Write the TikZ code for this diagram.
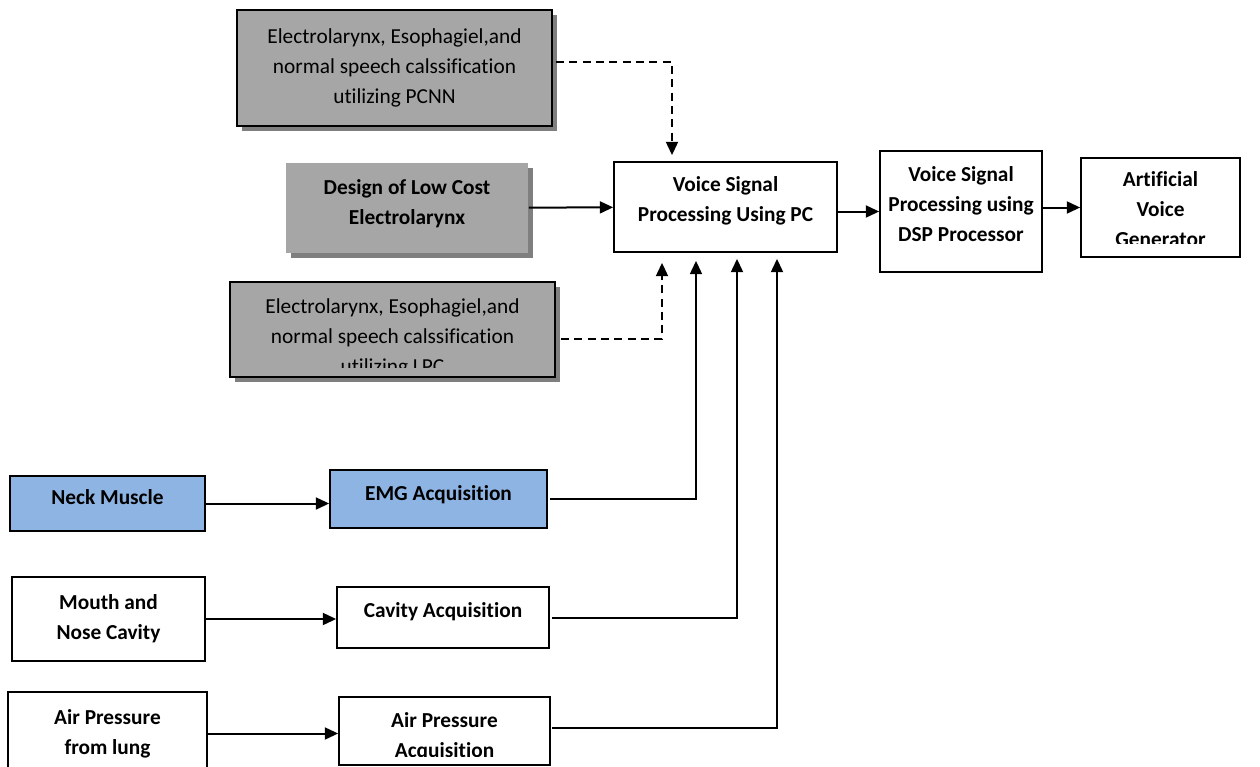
\documentclass[tikz,border=0pt]{standalone}
\usepackage{fontspec}
\setmainfont{Carlito}[Ligatures=NoCommon]
\usetikzlibrary{arrows.meta,calc,shadows}
\definecolor{boxgray}{HTML}{A6A6A6}
\definecolor{shadegray}{HTML}{7F7F7F}
\definecolor{muscleblue}{HTML}{8EB4E3}
\newcommand\boxfont{\fontsize{16}{22.5}\selectfont}

\begin{document}
\begin{tikzpicture}[x=0.75pt, y=-0.75pt, every node/.style={align=center, font=\boxfont}, >={Triangle[length=10pt,width=9pt]},
	blk/.style={draw, line width=1.3pt, inner sep=0pt, font=\boxfont\bfseries},
	gry/.style={blk, fill=boxgray, font=\boxfont, drop shadow={shadow xshift=3.75pt, shadow yshift=-3.75pt, fill=shadegray, opacity=1}},
	bf/.style={font=\boxfont\bfseries},
	conn/.style={->, line width=1.5pt},
	dsh/.style={conn, dash pattern=on 6pt off 4pt}]
	\useasboundingbox (0,0) rectangle (1260,767);
	% classification and electrolarynx work
	\node[gry, minimum width=236.25pt, minimum height=87pt] (pcnn) at (394.5,68) {Electrolarynx, Esophagiel,and\\normal speech calssification\\utilizing PCNN};
	\node[gry, draw=none, minimum width=181.5pt, minimum height=67.5pt] (design) at (407,208) {};
	\node[bf] (designtxt) at ($(design.center)+(0,-4)$) {Design of Low Cost\\Electrolarynx};
	\node[gry, minimum width=243.75pt, minimum height=71.25pt] (lpc) at (392.5,329.5) {};
	\begin{scope}
		\clip (lpc.north west) rectangle ($(lpc.south east)+(0,-10)$);
		\node (lpctxt) at ($(lpc.center)+(0,8)$) {Electrolarynx, Esophagiel,and\\normal speech calssification\\utilizing LPC};
	\end{scope}
	% processing chain
	\node[blk, minimum width=167.25pt, minimum height=67.5pt] (pc) at (725.5,207) {};
	\node[bf] (pctxt) at ($(pc.center)+(0,-6)$) {Voice Signal\\Processing Using PC};
	\node[blk, minimum width=121.5pt, minimum height=90.75pt] (dsp) at (961,211.5) {};
	\node[bf] (dsptxt) at ($(dsp.center)+(0,-7)$) {Voice Signal\\Processing using\\DSP Processor};
	\node[blk, minimum width=119.25pt, minimum height=74.25pt] (avg) at (1160.5,207.5) {};
	\begin{scope}
		\clip (avg.north west) rectangle ($(avg.south east)+(0,-14)$);
		\node[bf] (avgtxt) at ($(avg.center)+(0,1.5)$) {Artificial\\Voice\\Generator};
	\end{scope}
	% acquisition
	\node[blk, fill=muscleblue, minimum width=146.25pt, minimum height=41.25pt] (neck) at (107.5,503.5) {};
	\node[bf] (necktxt) at ($(neck.center)+(0,-6)$) {Neck Muscle};
	\node[blk, fill=muscleblue, minimum width=162.75pt, minimum height=43.5pt] (emg) at (438.5,499) {};
	\node[bf] (emgtxt) at ($(emg.center)+(0,-4)$) {EMG Acquisition};
	\node[blk, minimum width=144.75pt, minimum height=63pt] (mouth) at (108.5,619) {Mouth and\\Nose Cavity};
	\node[blk, minimum width=159pt, minimum height=45.75pt] (cavity) at (443,617.5) {};
	\node[bf] (cavitytxt) at ($(cavity.center)+(0,-6)$) {Cavity Acquisition};
	\node[blk, minimum width=149.25pt, minimum height=62.25pt] (air) at (107.5,733.5) {Air Pressure\\from lung};
	\node[blk, minimum width=158.25pt, minimum height=51pt] (airacq) at (444.5,731) {};
	\begin{scope}
		\clip (airacq.north west) rectangle ($(airacq.south east)+(0,-9)$);
		\node[bf] (airacqtxt) at ($(airacq.center)+(0,6)$) {Air Pressure\\Acquisition};
	\end{scope}
	% connectors
	\draw[dsh] ($(pcnn.east)+(3,-6)$) -| ($(pc.north)+(-53.5,-6)$);
	\draw[conn] (design) -- (pc);
	\draw[dsh] ($(lpc.east)+(5,9.5)$) -| ($(pc.south)+(-63.5,10)$);
	\draw[conn] ($(emg.east)+(2,0)$) -| ($(pc.south)+(-29.5,8)$);
	\draw[conn] ($(cavity.east)+(2,0)$) -| ($(pc.south)+(11.5,6)$);
	\draw[conn] ($(airacq.east)+(1,-3)$) -| ($(pc.south)+(51.5,6)$);
	\draw[conn] (pc.east |- dsp.west) -- (dsp.west);
	\draw[conn] (dsp.east |- avg.west) -- (avg.west);
	\draw[conn] (neck.east) -- (neck.east -| emg.west);
	\draw[conn] (mouth.east) -- (mouth.east -| cavity.west);
	\draw[conn] (air.east) -- (air.east -| airacq.west);
\end{tikzpicture}
\end{document}
